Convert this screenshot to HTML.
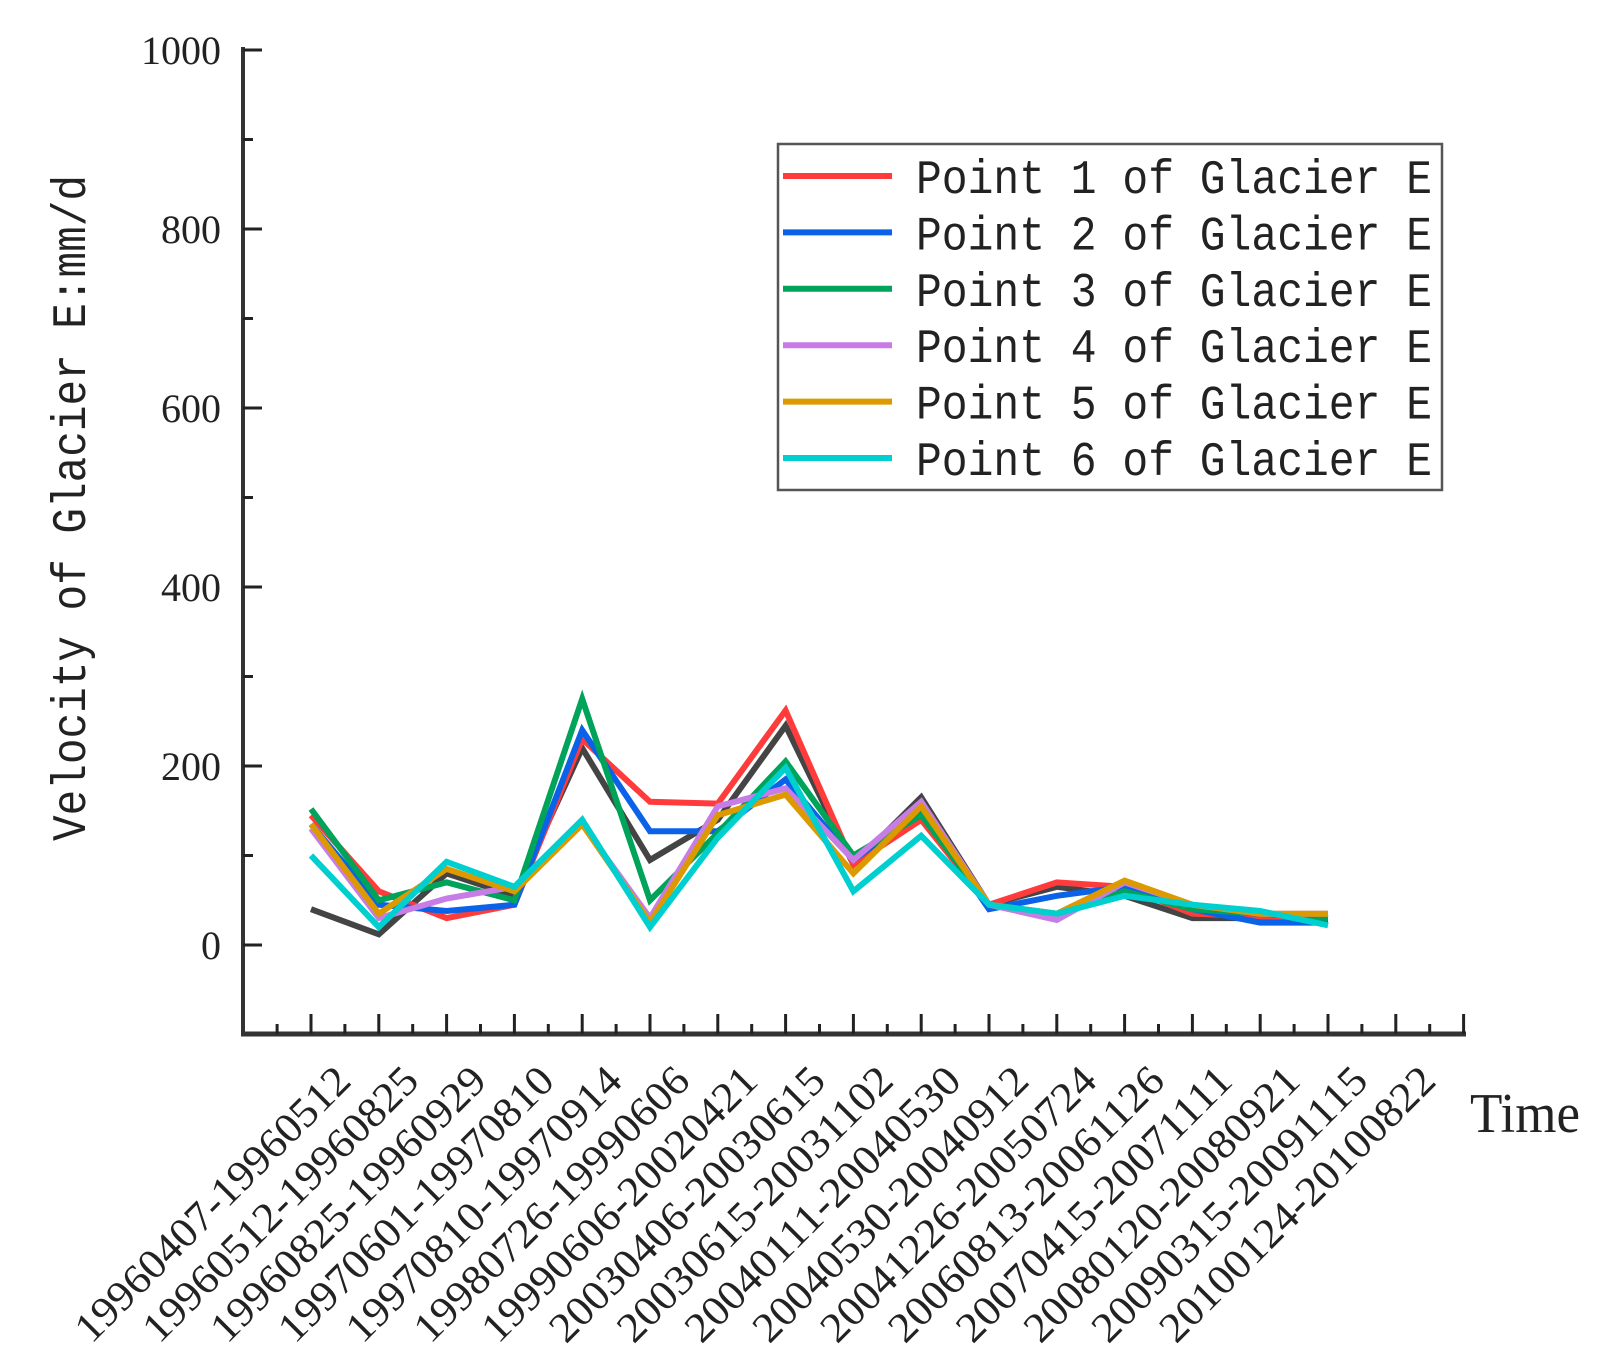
<!DOCTYPE html>
<html><head><meta charset="utf-8"><style>
html,body{margin:0;padding:0;background:#fff;}
svg{display:block;}
</style></head><body>
<svg id="chart" width="1612" height="1371" viewBox="0 0 1612 1371" xmlns="http://www.w3.org/2000/svg">
<g id="axes"></g>
<g id="series"></g>
<g id="legend"></g>
</svg>
<script>
const categories = ["19960407-19960512","19960512-19960825","19960825-19960929","19970601-19970810","19970810-19970914","19980726-19990606","19990606-20020421","20030406-20030615","20030615-20031102","20040111-20040530","20040530-20040912","20041226-20050724","20060813-20061126","20070415-20071111","20080120-20080921","20090315-20091115","20100124-20100822"];
const yTicks = [0,200,400,600,800,1000];
const seriesNames = ["Point 1 of Glacier E","Point 2 of Glacier E","Point 3 of Glacier E","Point 4 of Glacier E","Point 5 of Glacier E","Point 6 of Glacier E"];
const grayValues = [40,12,80,55,220,95,140,245,90,165,45,65,55,30,30,30];
const p1Values = [145,60,30,45,230,160,158,262,90,140,45,70,65,35,32,30];
const p2Values = [135,45,38,45,240,127,127,185,95,150,40,55,65,40,25,25];
const p3Values = [152,50,70,50,275,50,125,205,100,145,45,35,60,40,35,30];
const p4Values = [130,30,52,65,135,30,155,175,95,160,45,28,70,45,35,35];
const p5Values = [135,35,85,60,135,25,145,168,80,155,45,35,72,45,35,35];
const p6Values = [100,20,93,65,140,20,120,198,60,122,45,35,55,45,38,22];

const NS="http://www.w3.org/2000/svg";
const X0=311, DX=67.8, Y0=945, PY=0.895;
const xs=i=>X0+DX*i;
const ys=v=>Y0-v*PY;
function mk(tag,attrs,parent){const e=document.createElementNS(NS,tag);for(const k in attrs)e.setAttribute(k,attrs[k]);parent.appendChild(e);return e;}
const axes=document.getElementById('axes');
const ser=document.getElementById('series');
const leg=document.getElementById('legend');
const axisY=1034, axisL=243, axisR=1466;

// y axis
let l=mk('line',{x1:axisL,y1:47,x2:axisL,y2:axisY+2,stroke:'#333','stroke-width':4},axes);


for(let v=-100;v<=1000;v+=100){
  const major=v%200===0;
  const t=mk('line',{x1:axisL,y1:ys(v),x2:axisL+(major?19:10),y2:ys(v),stroke:'#222','stroke-width':3},axes);
  
  
}
yTicks.forEach(v=>{
  const t=mk('text',{x:221,y:ys(v)+14,'text-anchor':'end','font-family':'"Liberation Serif",serif','font-size':40,fill:'#222'},axes);
  t.textContent=v;
  
  
});
// x axis
l=mk('line',{x1:axisL-2,y1:axisY,x2:axisR,y2:axisY,stroke:'#333','stroke-width':5},axes);


for(let k=-2;k<=34;k++){
  const x=X0+DX*k/2; if(x<axisL+5||x>axisR+1)continue;
  const major=k%2===0;
  const t=mk('line',{x1:x,y1:axisY,x2:x,y2:axisY-(major?20:10),stroke:'#222','stroke-width':3},axes);
  
  
}
categories.forEach((c,i)=>{
  const ax=xs(i)+42, ay=1083;
  const t=mk('text',{x:ax,y:ay,'text-anchor':'end',transform:`rotate(-45 ${ax} ${ay})`,'font-family':'"Liberation Serif",serif','font-size':42,fill:'#222',textLength:370,lengthAdjust:'spacingAndGlyphs'},axes);
  t.textContent=c;
  
  
});
let tt=mk('text',{x:1470,y:1132,'font-family':'"Liberation Serif",serif','font-size':56,fill:'#222',textLength:110,lengthAdjust:'spacingAndGlyphs'},axes);
tt.textContent='Time';


tt=mk('text',{x:85,y:508,'text-anchor':'middle',transform:'rotate(-90 85 508)','font-family':'"Liberation Mono",monospace','font-size':48,fill:'#222',textLength:666,lengthAdjust:'spacingAndGlyphs'},axes);
tt.textContent='Velocity of Glacier E:mm/d';



// series
const allSeries=[grayValues,p1Values,p2Values,p3Values,p4Values,p5Values,p6Values];
const colors=['#444444','#ff3b3b','#0a62e8','#00a35a','#c77ce6','#dc9a00','#00cfcf'];
const names=['gray-series-line','point-1-line','point-2-line','point-3-line','point-4-line','point-5-line','point-6-line'];
allSeries.forEach((vals,s)=>{
  const d=vals.map((v,i)=>(i?'L':'M')+xs(i).toFixed(1)+' '+ys(v).toFixed(1)).join(' ');
  const p=mk('path',{d:d,fill:'none',stroke:colors[s],'stroke-width':6,'stroke-linejoin':'miter','stroke-miterlimit':4},ser);
  
  
});

// legend
const box=mk('rect',{x:778,y:144,width:664,height:346,fill:'#fff',stroke:'#555','stroke-width':2.5},leg);


seriesNames.forEach((n,i)=>{
  const cy=176+56.4*i;
  const g=mk('g',{},leg);
  
  
  mk('line',{x1:783,y1:cy,x2:892,y2:cy,stroke:colors[i+1],'stroke-width':6},g);
  const t=mk('text',{x:916,y:cy+17,'font-family':'"Liberation Mono",monospace','font-size':48,fill:'#222',textLength:516,lengthAdjust:'spacingAndGlyphs'},g);
  t.textContent=n;
  
  
});
</script>
</body></html>
